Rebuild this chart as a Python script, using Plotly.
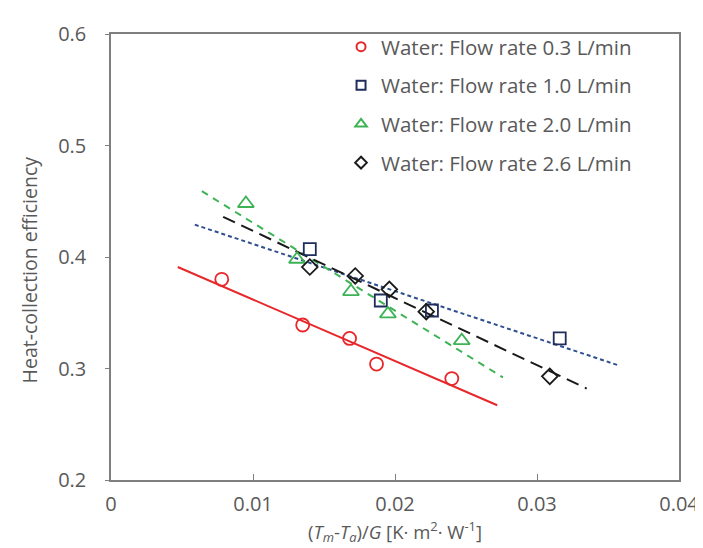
import plotly.graph_objects as go

# ---- data ----
names = ["Water: Flow rate 0.3 L/min", "Water: Flow rate 1.0 L/min",
         "Water: Flow rate 2.0 L/min", "Water: Flow rate 2.6 L/min"]

x_03 = [0.0078, 0.0135, 0.0168, 0.0187, 0.0240]
y_03 = [0.380, 0.339, 0.327, 0.304, 0.291]

x_10 = [0.0140, 0.0190, 0.0226, 0.0316]
y_10 = [0.407, 0.361, 0.352, 0.327]

x_20 = [0.0095, 0.0131, 0.0169, 0.0195, 0.0247]
y_20 = [0.448, 0.398, 0.369, 0.349, 0.325]

x_26 = [0.0140, 0.0172, 0.0196, 0.0222, 0.0309]
y_26 = [0.391, 0.383, 0.371, 0.351, 0.293]

# trend lines (endpoints)
tx_03 = [0.0047, 0.0272]; ty_03 = [0.391, 0.267]
tx_10 = [0.0059, 0.0357]; ty_10 = [0.429, 0.303]
tx_20 = [0.0064, 0.0276]; ty_20 = [0.459, 0.292]
tx_26 = [0.0079, 0.0335]; ty_26 = [0.436, 0.282]

x_ticks = [0, 0.01, 0.02, 0.03, 0.04]
x_tick_text = ["0", "0.01", "0.02", "0.03", "0.04"]
y_ticks = [0.2, 0.3, 0.4, 0.5, 0.6]
y_tick_text = ["0.2", "0.3", "0.4", "0.5", "0.6"]

RED = "#E8272B"
NAVY = "#1F2D5C"
BLUE_LINE = "#2F4F8F"
GREEN = "#3DB356"
BLACK = "#1A1A1A"
TXT = "#595959"
FONT = "Open Sans"

fig = go.Figure()

# trend lines
fig.add_trace(go.Scatter(x=tx_03, y=ty_03, mode="lines", showlegend=False,
                         line=dict(color=RED, width=2)))
fig.add_trace(go.Scatter(x=tx_10, y=ty_10, mode="lines", showlegend=False,
                         line=dict(color=BLUE_LINE, width=2, dash="4px,3px")))
fig.add_trace(go.Scatter(x=tx_20, y=ty_20, mode="lines", showlegend=False,
                         line=dict(color=GREEN, width=2, dash="7px,6px")))
fig.add_trace(go.Scatter(x=tx_26, y=ty_26, mode="lines", showlegend=False,
                         line=dict(color=BLACK, width=2, dash="13px,7px")))

series = [
    (x_03, y_03, "circle-open", 13, RED),
    (x_10, y_10, "square-open", 12, NAVY),
    (x_20, y_20, "triangle-up-open", 14, GREEN),
    (x_26, y_26, "diamond-open", 12, BLACK),
]
for i, (xs, ys, sym, sz, col) in enumerate(series):
    fig.add_trace(go.Scatter(x=xs, y=ys, mode="markers", showlegend=False,
                             marker=dict(symbol=sym, size=sz, color=col,
                                         line=dict(width=1.8, color=col))))
# legend-only entries with small symbols, as in the reference
for i, (xs, ys, sym, sz, col) in enumerate(series):
    fig.add_trace(go.Scatter(x=[None], y=[None], mode="markers", name=names[i],
                             legendgroup=f"g{i}",
                             marker=dict(symbol=sym, size=9 if i != 2 else 10, color=col,
                                         line=dict(width=2, color=col))))

fig.update_layout(
    width=703, height=548,
    margin=dict(l=103, r=21, t=22, b=76),
    paper_bgcolor="white", plot_bgcolor="white",
    font=dict(family=FONT, color=TXT, size=17),
    legend=dict(x=0.405, y=1.016, xanchor="left", yanchor="top",
                bgcolor="rgba(255,255,255,0)", borderwidth=0,
                font=dict(size=20.5, color=TXT, family=FONT),
                tracegroupgap=9, itemwidth=30),
    xaxis=dict(range=[0, 0.04], tickvals=x_ticks, ticktext=x_tick_text,
               showgrid=False, zeroline=False, showline=True, mirror=True,
               linecolor="#7F7F7F", linewidth=1.5,
               ticks="inside", ticklen=6, tickcolor="#7F7F7F",
               ticklabelstandoff=5,
               tickfont=dict(size=20, color=TXT),
               title=dict(text="(<i>T<sub>m</sub></i>-<i>T<sub>a</sub></i>)/<i>G</i> [K· m<sup>2</sup>· W<sup>-1</sup>]",
                          font=dict(size=18.5, color=TXT), standoff=8)),
    yaxis=dict(range=[0.2, 0.6], tickvals=y_ticks, ticktext=y_tick_text,
               showgrid=False, zeroline=False, showline=True, mirror=True,
               linecolor="#7F7F7F", linewidth=1.5,
               ticks="outside", ticklen=4, tickcolor="#7F7F7F",
               ticklabelstandoff=15,
               tickfont=dict(size=20, color=TXT)),
    annotations=[dict(text="Heat-collection efficiency", textangle=-90,
                      xref="paper", yref="paper", x=-0.117, y=0.47,
                      xanchor="right", yanchor="middle", showarrow=False,
                      font=dict(size=19.5, color=TXT, family=FONT))],
)

fig.write_html("out.html")
